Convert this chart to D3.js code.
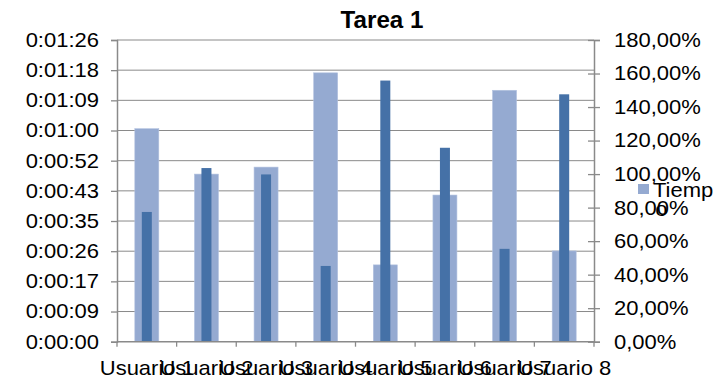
<!DOCTYPE html>
<html>
<head>
<meta charset="utf-8">
<script src="https://cdn.jsdelivr.net/npm/d3@7"></script>
<style>
  html, body { margin: 0; padding: 0; background: #fff; }
  svg { display: block; font-family: "Liberation Sans", Arial, sans-serif; }
</style>
</head>
<body>
<svg id="chart" width="723" height="377"></svg>
<script>
const categories = ["Usuario 1","Usuario 2","Usuario 3","Usuario 4","Usuario 5","Usuario 6","Usuario 7","Usuario 8"];
// Tiempo (seconds), left axis
const tiempo = [61, 48, 50, 77, 22, 42, 72, 26];
// Percentage series, right axis
const porcentaje = [77.4, 103.6, 99.8, 45.2, 155.8, 115.7, 55.4, 147.6];
// left axis ticks (seconds) and labels
const leftTickValues = [0, 8.64, 17.28, 25.92, 34.56, 43.2, 51.84, 60.48, 69.12, 77.76, 86.4];
const leftTickLabels = ["0:00:00","0:00:09","0:00:17","0:00:26","0:00:35","0:00:43","0:00:52","0:01:00","0:01:09","0:01:18","0:01:26"];
const rightTickValues = [0, 20, 40, 60, 80, 100, 120, 140, 160, 180];
const rightTickLabels = ["0,00%","20,00%","40,00%","60,00%","80,00%","100,00%","120,00%","140,00%","160,00%","180,00%"];
const legendLabel = "Tiempo";
const title = "Tarea 1";

const svg = d3.select("#chart");
const L = 117, R = 594, T = 40, B = 341.7;
const gridColor = "#8a8a8a";
const lightColor = "#95aad1";
const darkColor = "#4571a7";
const SX = 1.1; // horizontal stretch of text as in the reference

const x = d3.scaleBand().domain(categories).range([L, R]).padding(0);
const yL = d3.scaleLinear().domain([0, 86.4]).range([B, T]);
const yR = d3.scaleLinear().domain([0, 180]).range([B, T]);

// gridlines
svg.append("g").selectAll("line").data(leftTickValues.slice(1)).join("line")
  .attr("x1", L).attr("x2", R)
  .attr("y1", d => yL(d)).attr("y2", d => yL(d))
  .attr("stroke", gridColor).attr("stroke-width", 1);

// light bars (Tiempo)
const lw = 24, dw = 10;
svg.append("g").selectAll("rect").data(categories).join("rect")
  .attr("x", (d) => x(d) + x.bandwidth()/2 - lw/2)
  .attr("width", lw)
  .attr("y", (d, i) => yL(tiempo[i]))
  .attr("height", (d, i) => B - yL(tiempo[i]))
  .attr("fill", lightColor)
  .attr("stroke", "#b3c2df").attr("stroke-width", 0.6);

// dark bars (percentage)
svg.append("g").selectAll("rect").data(categories).join("rect")
  .attr("x", (d) => x(d) + x.bandwidth()/2 - dw/2)
  .attr("width", dw)
  .attr("y", (d, i) => yR(porcentaje[i]))
  .attr("height", (d, i) => B - yR(porcentaje[i]))
  .attr("fill", darkColor);

// left axis
const leftAxis = d3.axisLeft(yL).tickValues(leftTickValues)
  .tickFormat((d, i) => leftTickLabels[i]).tickSize(6).tickPadding(12);
const gL = svg.append("g").attr("transform", `translate(${L},0)`).call(leftAxis);

// right axis
const rightAxis = d3.axisRight(yR).tickValues(rightTickValues)
  .tickFormat((d, i) => rightTickLabels[i]).tickSize(6).tickPadding(14);
const gR = svg.append("g").attr("transform", `translate(${R},0)`).call(rightAxis);
gR.selectAll(".tick line").attr("x1", -6);

// bottom axis
const bottomAxis = d3.axisBottom(x).tickSize(0).tickPadding(14);
const gB = svg.append("g").attr("transform", `translate(0,${B})`).call(bottomAxis);
gB.selectAll(".tick text").attr("dy", "0.95em");
// boundary ticks
gB.append("g").selectAll("line").data(categories.concat([null])).join("line")
  .attr("x1", (d, i) => L + i * x.bandwidth()).attr("x2", (d, i) => L + i * x.bandwidth())
  .attr("y1", 0).attr("y2", 5).attr("stroke", gridColor).attr("stroke-width", 1.3);

[gL, gR, gB].forEach(g => {
  g.select(".domain").attr("stroke", gridColor).attr("stroke-width", 1.5);
  g.selectAll(".tick line").attr("stroke", gridColor).attr("stroke-width", 1.3);
  g.selectAll(".tick text").attr("fill", "#000").style("font-size", "20px")
    .style("font-family", "'Liberation Sans', Arial, sans-serif")
    .attr("transform", function() {
      const tx = +this.getAttribute("x") || 0;
      return `translate(${tx},0) scale(${SX},1) translate(${-tx},0)`;
    });
});
gB.select(".domain").attr("d", `M${L},0H${R}`);

// title
svg.append("text").attr("x", 382).attr("y", 28).attr("text-anchor", "middle")
  .attr("transform", `translate(382,0) scale(1.05,1) translate(-382,0)`)
  .style("font-size", "23px").style("font-weight", "bold").text(title);

// legend
svg.append("rect").attr("x", 638).attr("y", 184).attr("width", 11).attr("height", 10).attr("fill", lightColor);
const lt = svg.append("text").style("font-size", "20px")
  .attr("transform", `translate(653,0) scale(${SX},1) translate(-653,0)`);
lt.append("tspan").attr("x", 653).attr("y", 197).text(legendLabel.slice(0, 5));
lt.append("tspan").attr("x", 655).attr("y", 216).text(legendLabel.slice(5));
</script>
</body>
</html>
